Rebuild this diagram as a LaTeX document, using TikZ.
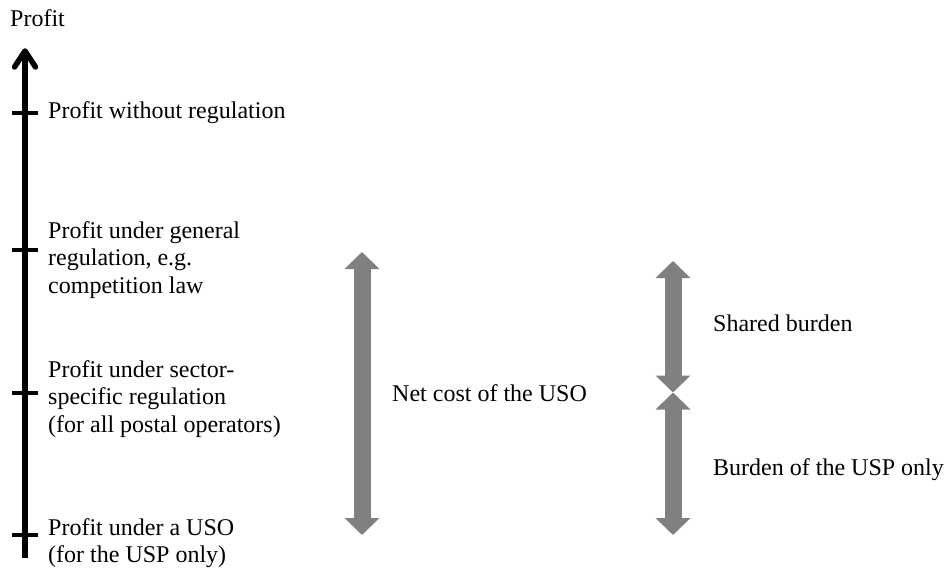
\documentclass[tikz,border=0pt]{standalone}
\usepackage{fontspec}
\setmainfont{Liberation Serif}
\usetikzlibrary{arrows.meta}
\tikzset{
  lbl/.style={anchor=west, inner sep=0pt, align=left, font=\fontsize{24}{27.5}\selectfont},
  axisline/.style={line width=5.5pt},
  tickline/.style={line width=4.5pt},
  grayarrow/.style={draw=gray, line width=17pt, {Triangle[length=17pt,width=34pt]}-{Triangle[length=17pt,width=34pt]}, fill=gray}
}
\begin{document}
\begin{tikzpicture}[x=1pt,y=-1pt]
\useasboundingbox (0,0) rectangle (944,569);
% axis
\coordinate (axb) at (25,558);
\coordinate (axt) at (25,51);
\draw[axisline] (axb) -- (axt);
\draw[axisline, line join=round, line cap=round] (14.5,67) -- (axt) -- (35.5,67);
% ticks
\foreach \y/\n in {113/t1,250/t2,393/t3,535/t4}{
  \coordinate (\n l) at (12,\y);
  \coordinate (\n r) at (38,\y);
  \draw[tickline] (\n l) -- (\n r);
}
% labels
\node[lbl] (profit) at (10,18) {Profit};
\node[lbl] (l1) at (48,113) {Profit without regulation};
\node[lbl] (l2) at (48,260) {Profit under general\\regulation, e.g.\\competition law};
\node[lbl] (l3) at (48,399) {Profit under sector-\\specific regulation\\(for all postal operators)};
\node[lbl] (l4) at (48,543) {Profit under a USO\\(for the USP only)};
% gray arrows
\coordinate (a1t) at (362,252);
\coordinate (a1b) at (362,535);
\coordinate (a2t) at (673,261);
\coordinate (a2m) at (673,392.5);
\coordinate (a2b) at (673,535);
\draw[grayarrow] (a1t) -- (a1b);
\draw[grayarrow] (a2t) -- (a2m);
\draw[grayarrow] (a2m) -- (a2b);
\node[lbl] (net) at (392,393) {Net cost of the USO};
\node[lbl] (shared) at (713,323) {Shared burden};
\node[lbl] (usp) at (713,470) {Burden of the USP only};
\end{tikzpicture}
\end{document}
